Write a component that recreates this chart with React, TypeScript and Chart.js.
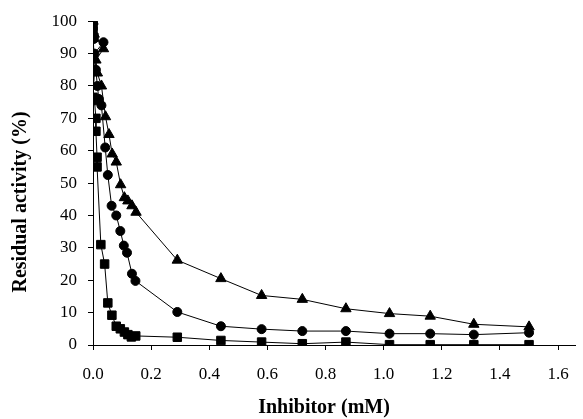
import React, { useEffect, useRef } from "react";
import { Chart, registerables } from "chart.js";

Chart.register(...registerables);

const xTickValues = [0, 0.2, 0.4, 0.6, 0.8, 1.0, 1.2, 1.4, 1.6];
const yTickStep = 10;

const squareX = [0, 0, 0, 0.003, 0.005, 0, 0.005, 0.01, 0.01, 0.014, 0.014, 0.027, 0.04, 0.051, 0.065, 0.08, 0.094, 0.108, 0.12, 0.132, 0.147, 0.29, 0.44, 0.58, 0.72, 0.87, 1.02, 1.16, 1.31, 1.5];
const squareY = [100, 98.5, 97, 95, 84.5, 76.5, 75.5, 70, 66, 58, 55, 31, 25, 13, 9.2, 5.8, 5, 4, 3.2, 2.5, 2.8, 2.4, 1.4, 0.9, 0.4, 0.9, 0.1, 0.1, 0.1, 0.1];

const circleX = [0, 0.002, 0.036, 0.005, 0.01, 0.015, 0.02, 0.029, 0.042, 0.051, 0.064, 0.08, 0.094, 0.106, 0.117, 0.134, 0.146, 0.29, 0.44, 0.58, 0.72, 0.87, 1.02, 1.16, 1.31, 1.5];
const circleY = [100, 94.5, 93.5, 90, 85, 80, 76, 74, 61, 52.5, 43, 40, 35.2, 30.7, 28.5, 22, 19.8, 10.2, 5.8, 4.9, 4.3, 4.3, 3.5, 3.5, 3.2, 3.8];

const triangleX = [0, 0.004, 0.036, 0.01, 0.015, 0.029, 0.043, 0.055, 0.066, 0.08, 0.095, 0.108, 0.12, 0.134, 0.148, 0.29, 0.44, 0.58, 0.72, 0.87, 1.02, 1.16, 1.31, 1.5];
const triangleY = [100, 96, 91.5, 88, 84, 80, 70.5, 65, 59, 56.5, 49.5, 45.5, 44.5, 43, 41, 26.2, 20.5, 15.3, 14.1, 11.2, 9.7, 8.9, 6.4, 5.6];

const xTitle = "Inhibitor (mM)";
const yTitle = "Residual activity (%)";

const toPoints = (xs: number[], ys: number[]) => xs.map((x, i) => ({ x, y: ys[i] }));

const titlePlugin = {
  id: "customTitles",
  afterDraw(chart: any) {
    const ctx = chart.ctx;
    ctx.save();
    ctx.fillStyle = "#000";
    ctx.font = "bold 20px 'Liberation Serif', 'Times New Roman', serif";
    ctx.textAlign = "center";
    ctx.textBaseline = "middle";
    ctx.fillText(xTitle, 324, 408);
    ctx.translate(21, 202);
    ctx.rotate(-Math.PI / 2);
    ctx.fillText(yTitle, 0, 0);
    ctx.restore();
  },
};

export default function App() {
  const ref = useRef<HTMLCanvasElement | null>(null);
  useEffect(() => {
    if (!ref.current) return;
    const font = { family: "'Liberation Serif', 'Times New Roman', serif", size: 17 };
    const common = {
      borderColor: "#000",
      backgroundColor: "#000",
      borderWidth: 1,
      pointBorderWidth: 1,
      showLine: true,
      fill: false,
      tension: 0,
    };
    const chart = new Chart(ref.current, {
      type: "scatter",
      data: {
        datasets: [
          { ...common, label: "squares", data: toPoints(squareX, squareY), pointStyle: "rect", pointRadius: 6 },
          { ...common, label: "circles", data: toPoints(circleX, circleY), pointStyle: "circle", pointRadius: 4.5 },
          { ...common, label: "triangles", data: toPoints(triangleX, triangleY), pointStyle: "triangle", pointRadius: 6 },
        ],
      },
      options: {
        responsive: false,
        animation: false,
        layout: { padding: { top: 20, right: 3, left: 0, bottom: 0 } },
        plugins: { legend: { display: false }, tooltip: { enabled: false } },
        scales: {
          x: {
            type: "linear",
            min: 0,
            max: 1.66,
            afterBuildTicks: (axis: any) => {
              axis.ticks = xTickValues.map((v) => ({ value: v }));
            },
            afterFit: (scale: any) => {
              scale.height = 74;
            },
            ticks: {
              font,
              color: "#000",
              padding: 14,
              maxRotation: 0,
              autoSkip: false,
              callback: (v: any) => Number(v).toFixed(1),
            },
            grid: { display: true, drawOnChartArea: false, drawTicks: true, tickLength: 5, color: "#000" },
            border: { display: true, color: "#000", width: 1 },
          },
          y: {
            min: 0,
            max: 100,
            afterFit: (scale: any) => {
              scale.width = 93;
            },
            ticks: { stepSize: yTickStep, font, color: "#000", padding: 11 },
            grid: { display: true, drawOnChartArea: false, drawTicks: true, tickLength: 5, color: "#000" },
            border: { display: true, color: "#000", width: 1 },
          },
        },
      },
      plugins: [titlePlugin],
    } as any);
    return () => chart.destroy();
  }, []);
  return (
    <div style={{ position: "fixed", left: 0, top: 0, width: 583, height: 419, background: "#fff" }}>
      <canvas ref={ref} width={583} height={419} />
    </div>
  );
}
